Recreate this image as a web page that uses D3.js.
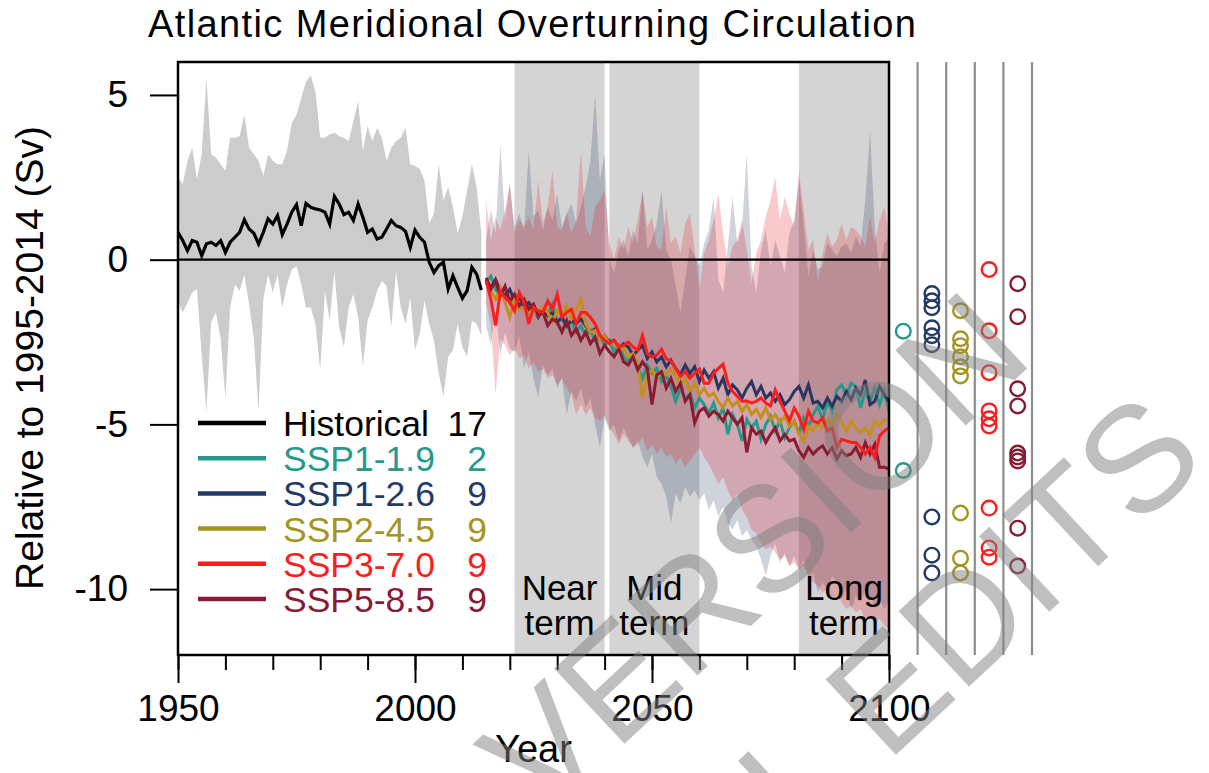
<!DOCTYPE html>
<html>
<head>
<meta charset="utf-8">
<script src="https://cdn.jsdelivr.net/npm/d3@7"></script>
<style>
  html, body { margin: 0; padding: 0; background: #fff; }
  svg { display: block; font-family: "Liberation Sans", Arial, Helvetica, sans-serif; }
</style>
</head>
<body>
<svg id="chart" width="1209" height="773"></svg>
<script>
// ---------------- data ----------------
const histStart = 1950;
// multi-model mean of the historical runs (Sv, relative to 1995-2014)
const histMean = [
  0.83,0.58,0.27,0.58,0.53,0.12,0.48,0.53,0.43,0.58,
  0.22,0.53,0.68,0.83,1.21,0.93,0.80,0.48,0.83,1.24,
  1.08,1.34,0.76,1.08,1.44,1.67,1.03,1.71,1.59,1.54,
  1.51,1.44,1.08,1.92,1.69,1.37,1.44,1.19,1.69,1.29,
  0.83,0.93,0.63,0.68,0.93,1.19,1.03,0.98,0.86,0.37,
  0.90,0.68,0.53,-0.08,-0.39,-0.18,-0.08,-0.89,-0.49,-0.84,
  -1.17,-0.94,-0.23,-0.44,-0.92
];
const histHigh = [
  2.5,2.3,3.0,3.4,2.45,3.2,5.5,3.2,3.1,2.9,
  2.7,3.7,3.7,3.75,4.4,3.4,3.2,3.0,2.55,3.2,
  3.0,2.9,2.9,3.3,4.15,4.4,4.9,5.4,5.6,5.1,
  3.7,3.7,3.8,3.85,3.75,3.7,3.6,4.2,4.8,3.3,
  4.05,3.6,4.0,3.7,3.0,3.4,3.6,3.7,4.0,2.9,
  2.85,2.75,2.4,1.1,1.4,2.9,1.8,2.2,1.6,0.8,
  1.3,2.1,2.9,2.2,0.8
];
const histLow = [
  -1.25,-1.6,-1.3,-1.0,-0.9,-2.9,-4.6,-1.9,-1.6,-2.4,
  -4.2,-1.45,-0.75,-0.95,-0.45,-1.35,-2.4,-4.6,-1.2,-0.45,
  -1.0,-0.45,-1.45,-0.75,-0.3,-0.2,-0.75,-1.45,-1.45,-1.95,
  -3.35,-0.95,-1.85,-0.35,-2.05,-2.65,-1.45,-1.05,-1.75,-3.25,
  -1.85,-1.45,-0.95,-0.65,-0.8,-2.05,-0.35,-1.45,-1.95,-1.15,
  -2.75,-2.25,-1.25,-1.95,-2.45,-3.45,-4.15,-2.95,-2.75,-1.95,
  -2.65,-2.95,-1.85,-1.95,-2.3
];

const scenStart = 2015;
const ssp119 = [
  -0.7,-0.5,-0.9,-1.1,-0.9,-1.3,-1.1,-1.45,-1.3,-1.6,
  -1.4,-1.75,-1.5,-1.65,-1.35,-1.9,-1.8,-2.05,-1.85,-2.2,
  -2.0,-2.3,-2.15,-2.45,-2.3,-2.6,-2.45,-2.8,-2.6,-2.95,
  -3.1,-2.85,-3.3,-3.6,-3.2,-3.45,-3.3,-3.7,-3.5,-3.85,
  -4.3,-3.9,-4.25,-4.05,-4.5,-4.2,-4.4,-4.65,-4.35,-4.8,
  -4.5,-5.3,-4.7,-5.0,-5.5,-4.85,-5.1,-4.9,-5.45,-5.0,
  -4.75,-5.2,-4.9,-5.4,-5.1,-4.9,-5.25,-4.8,-5.05,-4.7,
  -4.45,-4.85,-4.3,-4.6,-3.95,-3.8,-4.1,-3.75,-3.85,-4.5,
  -4.0,-4.3,-3.9,-4.4,-4.0,-4.6
];
const ssp126 = [
  -0.6,-0.85,-0.6,-0.95,-1.1,-0.9,-1.25,-1.15,-1.4,-1.3,
  -1.5,-1.75,-1.5,-1.7,-1.6,-1.9,-1.75,-2.0,-1.85,-1.95,
  -1.8,-2.0,-2.2,-2.1,-2.4,-2.3,-2.5,-2.45,-2.7,-2.55,
  -2.65,-2.9,-2.75,-2.6,-3.0,-2.8,-3.1,-2.95,-3.25,-3.05,
  -3.3,-3.5,-3.2,-3.45,-3.25,-3.7,-3.35,-3.6,-3.4,-3.9,
  -3.6,-4.1,-3.8,-3.95,-4.2,-3.9,-3.7,-4.1,-3.85,-4.2,
  -4.05,-4.3,-4.1,-4.4,-4.25,-4.0,-3.85,-4.2,-3.8,-4.35,
  -4.3,-4.5,-4.2,-4.45,-4.15,-4.3,-4.0,-4.25,-3.9,-4.1,
  -3.65,-4.4,-4.3,-3.85,-4.1,-4.3
];
const ssp245 = [
  -0.7,-0.95,-1.2,-0.85,-1.3,-1.75,-1.2,-1.5,-1.45,-1.6,
  -1.55,-1.7,-1.45,-1.6,-1.9,-1.55,-1.7,-1.4,-1.8,-1.5,
  -1.2,-1.95,-2.2,-2.15,-2.4,-2.3,-2.55,-2.5,-2.75,-2.7,
  -2.95,-2.85,-3.2,-4.2,-3.5,-3.35,-3.6,-3.4,-3.5,-3.3,
  -3.55,-3.8,-3.6,-4.0,-3.75,-4.1,-3.9,-4.15,-4.05,-4.3,
  -4.5,-4.2,-4.45,-4.3,-4.6,-4.4,-4.7,-4.55,-4.8,-4.5,
  -4.85,-4.7,-4.95,-4.75,-5.05,-4.9,-5.3,-5.5,-5.05,-5.2,
  -4.95,-5.1,-4.85,-5.0,-4.7,-4.95,-5.2,-4.9,-5.1,-5.25,
  -5.1,-5.35,-4.9,-5.05,-4.85,-4.9
];
const ssp370 = [
  -0.64,-1.2,-2.0,-0.95,-1.15,-1.3,-1.55,-1.0,-1.3,-1.95,
  -1.45,-1.55,-1.6,-1.25,-1.5,-1.05,-1.75,-1.6,-1.5,-1.95,
  -1.6,-1.6,-1.75,-1.95,-2.3,-2.45,-2.55,-2.45,-2.65,-2.6,
  -2.5,-2.65,-2.75,-2.3,-2.85,-2.95,-2.9,-2.72,-3.0,-3.07,
  -3.3,-3.55,-3.4,-3.6,-3.45,-3.32,-3.75,-3.75,-3.45,-3.3,
  -3.17,-3.75,-4.0,-4.15,-4.3,-4.29,-4.35,-4.3,-4.2,-4.35,
  -4.44,-3.95,-4.3,-4.6,-4.89,-4.5,-4.75,-5.15,-4.6,-4.9,
  -4.95,-4.8,-5.2,-5.1,-5.7,-5.45,-5.5,-5.55,-5.55,-5.7,
  -5.9,-5.7,-6.0,-5.35,-5.2,-5.1
];
const ssp585 = [
  -0.55,-0.9,-0.65,-1.1,-0.8,-1.25,-1.05,-1.4,-1.2,-1.5,
  -1.35,-1.7,-1.6,-2.0,-1.8,-1.9,-2.2,-1.85,-2.3,-2.1,
  -2.45,-2.2,-2.55,-2.35,-2.85,-2.6,-2.8,-2.95,-2.7,-3.1,
  -3.2,-2.95,-3.35,-3.1,-3.3,-4.4,-3.5,-3.4,-3.9,-3.6,
  -4.0,-3.75,-4.3,-4.1,-4.95,-4.6,-4.5,-4.75,-4.6,-4.7,
  -4.9,-4.6,-4.8,-5.0,-4.8,-5.85,-5.1,-5.3,-5.2,-5.55,
  -5.3,-5.1,-5.5,-5.3,-5.5,-5.45,-5.8,-6.0,-5.7,-5.9,
  -5.75,-5.65,-5.9,-5.7,-6.05,-5.8,-5.95,-5.9,-5.7,-6.0,
  -5.55,-5.9,-5.6,-6.3,-6.3,-6.35
];

// 5-95% model ranges for SSP1-2.6 and SSP3-7.0
const ssp126High = [
  0.6,1.5,0.8,3.5,1.2,2.3,1.0,1.4,0.9,3.3,
  1.3,1.5,0.9,1.6,1.2,2.0,1.0,1.4,1.7,1.1,
  1.6,2.2,3.0,5.0,2.4,3.2,0.0,-0.4,0.3,0.6,
  0.1,0.9,0.5,2.1,0.3,0.6,1.1,2.1,0.3,0.0,
  -0.8,-1.6,-0.6,0.4,0.1,-0.2,0.5,0.9,1.9,-0.6,
  -1.0,0.4,1.9,0.5,1.0,3.2,-0.2,-1.0,0.3,0.9,
  -0.2,0.6,0.1,-0.4,0.8,1.2,2.4,1.0,-0.5,0.3,
  -0.3,-0.2,0.5,0.3,0.1,0.4,0.5,0.2,0.7,0.4,
  1.8,3.9,1.0,-0.4,0.5,0.7
];
const ssp126Low = [
  -2.0,-2.6,-1.4,-2.9,-2.2,-2.7,-2.8,-2.3,-3.3,-2.8,
  -3.6,-4.2,-3.2,-3.5,-3.3,-3.9,-3.6,-4.7,-4.0,-4.3,
  -3.9,-4.5,-4.2,-5.0,-5.7,-4.8,-5.2,-5.0,-5.5,-5.1,
  -5.4,-5.7,-5.5,-6.0,-6.3,-5.9,-6.6,-6.8,-7.2,-8.0,
  -7.1,-7.4,-6.9,-7.2,-7.0,-7.3,-7.1,-7.6,-7.3,-7.8,
  -7.5,-8.0,-8.2,-7.9,-8.4,-8.2,-8.5,-8.7,-9.1,-9.6,
  -9.0,-8.6,-9.2,-8.9,-9.3,-9.0,-9.4,-9.1,-9.7,-9.5,
  -10.1,-9.8,-10.0,-9.6,-9.8,-10.3,-10.0,-10.6,-10.2,-10.4,
  -10.0,-10.2,-10.5,-10.3,-10.6,-10.4
];
const ssp370High = [
  1.8,0.6,1.3,0.9,1.5,2.3,0.8,1.2,1.0,1.3,
  0.9,2.4,1.1,1.6,2.7,1.0,0.9,1.4,0.8,1.2,
  3.3,1.0,0.7,1.6,1.8,2.1,0.5,0.0,0.7,0.3,
  1.0,0.5,1.2,2.1,1.0,1.3,0.4,0.3,1.6,0.5,
  0.7,0.2,1.1,1.4,0.3,-0.9,0.2,0.6,1.2,2.0,
  0.8,-0.2,0.4,0.6,1.2,0.3,-0.7,0.2,0.6,1.3,
  1.8,2.5,1.2,1.9,1.4,1.0,2.7,1.5,0.3,0.6,
  -0.7,0.2,0.8,0.4,0.6,1.1,0.6,1.0,0.9,0.7,
  0.4,1.3,0.5,1.2,1.6,0.8
];
const ssp370Low = [
  -1.3,-2.0,-4.1,-2.4,-2.6,-2.9,-2.7,-3.0,-2.9,-3.3,
  -3.1,-3.4,-3.3,-3.6,-3.5,-3.8,-3.6,-3.9,-4.1,-4.7,
  -4.4,-4.7,-4.5,-4.8,-4.9,-4.7,-5.1,-5.3,-5.6,-5.3,
  -5.5,-5.7,-5.6,-5.4,-5.8,-5.6,-5.9,-5.7,-6.0,-5.9,
  -6.2,-6.0,-6.3,-6.1,-5.9,-5.7,-6.0,-6.2,-6.5,-6.8,
  -6.6,-7.0,-7.3,-7.1,-7.6,-7.8,-8.2,-8.3,-8.6,-8.8,
  -8.7,-8.9,-9.1,-9.0,-9.3,-9.2,-9.4,-9.3,-9.6,-9.8,
  -9.9,-10.1,-10.0,-10.3,-10.2,-10.4,-10.6,-10.5,-10.7,-10.6,
  -10.9,-10.8,-11.0,-10.9,-11.1,-11.2
];

// 2081-2100 mean of each individual model, per scenario
const models119 = [-2.17,-6.40];
const models126 = [-1.03,-1.25,-1.46,-2.07,-2.31,-2.58,-7.81,-8.97,-9.51];
const models245 = [-1.55,-2.40,-2.61,-2.95,-3.25,-3.53,-7.69,-9.06,-9.51];
const models370 = [-0.30,-2.16,-3.43,-4.59,-4.83,-5.05,-7.54,-8.75,-9.03];
const models585 = [-0.73,-1.73,-3.92,-4.44,-5.87,-5.99,-6.11,-8.15,-9.30];

const scenarioNames = ["SSP1-1.9","SSP1-2.6","SSP2-4.5","SSP3-7.0","SSP5-8.5"];
const legendNames = ["Historical","SSP1-1.9","SSP1-2.6","SSP2-4.5","SSP3-7.0","SSP5-8.5"];
const legendCounts = [17, 2, 9, 9, 9, 9];

const periodNames = ["Near","Mid","Long"];
const periodStart = [2021, 2041, 2081];
const periodEnd = [2040, 2060, 2100];

const xMajorTicks = [1950, 2000, 2050, 2100];
const xMinorTicks = [1950,1960,1970,1980,1990,2000,2010,2020,2030,2040,2050,2060,2070,2080,2090,2100];
const yTicks = [5, 0, -5, -10];

// ---------------- styling ----------------
const textColors = ["#000000","#26998a","#243a66","#a3951f","#ff1c1c","#881b33"];
const lineColors = ["#000000","#26998a","#2a3560","#c48f1c","#ff1c1c","#8c1a30"];
const scenSeries = [ssp119, ssp126, ssp245, ssp370, ssp585];
const scenModels = [models119, models126, models245, models370, models585];

const svg = d3.select("#chart");
const W = 1209, H = 773;
const plot = {left: 178, right: 889, top: 62, bottom: 655};

const x = d3.scaleLinear().domain([1950, 2100]).range([plot.left, plot.right]);
const y = d3.scaleLinear().domain([-12, 6]).range([plot.bottom, plot.top]);
const col = d3.scaleBand().domain(scenarioNames).range([plot.right, 1032]);

svg.append("rect").attr("width", W).attr("height", H).attr("fill", "#fff");

svg.append("defs").append("clipPath").attr("id", "plotClip")
  .append("rect")
  .attr("x", plot.left).attr("y", plot.top)
  .attr("width", plot.right - plot.left).attr("height", plot.bottom - plot.top);

const inner = svg.append("g").attr("clip-path", "url(#plotClip)");

// assessment periods
periodNames.forEach((p, i) => {
  inner.append("rect")
    .attr("x", x(periodStart[i]))
    .attr("y", plot.top)
    .attr("width", x(periodEnd[i]) - x(periodStart[i]))
    .attr("height", plot.bottom - plot.top)
    .attr("fill", "#d4d4d4");
});

const areaFrom = (start, lo, hi) => d3.area()
  .x((d, i) => x(start + i))
  .y0((d, i) => y(lo[i]))
  .y1((d, i) => y(hi[i]));

// historical range
inner.append("path")
  .datum(histMean)
  .attr("d", areaFrom(histStart, histLow, histHigh))
  .attr("fill", "#cccccc");

// scenario ranges
inner.append("path")
  .datum(ssp126)
  .attr("d", areaFrom(scenStart, ssp126Low, ssp126High))
  .attr("fill", "#22375f").attr("fill-opacity", 0.22);
inner.append("path")
  .datum(ssp370)
  .attr("d", areaFrom(scenStart, ssp370Low, ssp370High))
  .attr("fill", "#e81e2a").attr("fill-opacity", 0.24);

// zero line
svg.append("line")
  .attr("x1", plot.left).attr("x2", plot.right)
  .attr("y1", y(0)).attr("y2", y(0))
  .attr("stroke", "#000").attr("stroke-width", 2.2);

const lineFrom = start => d3.line().x((d, i) => x(start + i)).y(d => y(d));

inner.append("path")
  .datum(histMean)
  .attr("d", lineFrom(histStart))
  .attr("fill", "none").attr("stroke", "#000")
  .attr("stroke-width", 3.2).attr("stroke-linejoin", "miter");

[0, 1, 2, 4, 3].forEach(k => {
  inner.append("path")
    .datum(scenSeries[k])
    .attr("d", lineFrom(scenStart))
    .attr("fill", "none").attr("stroke", lineColors[k + 1])
    .attr("stroke-width", 3).attr("stroke-linejoin", "miter");
});

// period labels
periodNames.forEach((p, i) => {
  const cx = (x(periodStart[i]) + x(periodEnd[i])) / 2;
  const t = svg.append("text")
    .attr("text-anchor", "middle")
    .attr("font-size", 35).attr("fill", "#000");
  t.append("tspan").attr("x", cx).attr("y", 600).text(p);
  t.append("tspan").attr("x", cx).attr("y", 635).text("term");
});

// frame
svg.append("rect")
  .attr("x", plot.left).attr("y", plot.top)
  .attr("width", plot.right - plot.left).attr("height", plot.bottom - plot.top)
  .attr("fill", "none").attr("stroke", "#000").attr("stroke-width", 2.5);

// axes
const gxMinor = svg.append("g")
  .attr("transform", `translate(0,${plot.bottom})`)
  .call(d3.axisBottom(x).tickValues(xMinorTicks).tickSize(15).tickFormat(""));
const gxMajor = svg.append("g")
  .attr("transform", `translate(0,${plot.bottom})`)
  .call(d3.axisBottom(x).tickValues(xMajorTicks).tickSize(28).tickPadding(12)
        .tickFormat(d => String(d)));
const gy = svg.append("g")
  .attr("transform", `translate(${plot.left},0)`)
  .call(d3.axisLeft(y).tickValues(yTicks).tickSize(28).tickPadding(22)
        .tickFormat(d => String(d)));

[gxMinor, gxMajor, gy].forEach(g => {
  g.select(".domain").remove();
  g.selectAll(".tick line").attr("stroke", "#000").attr("stroke-width", 2);
  g.selectAll(".tick text")
    .attr("font-family", '"Liberation Sans", Arial, Helvetica, sans-serif')
    .attr("font-size", 37).attr("fill", "#000");
});

// axis titles
svg.append("text")
  .attr("x", 148).attr("y", 37)
  .attr("font-size", 38).attr("textLength", 768).attr("lengthAdjust", "spacing")
  .text("Atlantic Meridional Overturning Circulation");

svg.append("text")
  .attr("transform", "translate(43,358) rotate(-90)")
  .attr("text-anchor", "middle")
  .attr("font-size", 39)
  .text("Relative to 1995-2014 (Sv)");

svg.append("text")
  .attr("x", (plot.left + plot.right) / 2).attr("y", 762)
  .attr("text-anchor", "middle").attr("font-size", 38)
  .text("Year");

// per-model end-of-century columns
scenarioNames.forEach((s, k) => {
  svg.append("line")
    .attr("x1", col(s) + col.bandwidth()).attr("x2", col(s) + col.bandwidth())
    .attr("y1", plot.top).attr("y2", plot.bottom)
    .attr("stroke", "#8e8e8e").attr("stroke-width", 2.2);
  svg.append("g").selectAll("circle")
    .data(scenModels[k]).join("circle")
    .attr("cx", col(s) + col.bandwidth() / 2)
    .attr("cy", d => y(d))
    .attr("r", 7.3)
    .attr("fill", "none")
    .attr("stroke", textColors[k + 1])
    .attr("stroke-width", 2.4);
});

// legend
const legend = svg.append("g");
legendNames.forEach((name, i) => {
  const ly = 423 + i * 35.2;
  legend.append("line")
    .attr("x1", 198).attr("x2", 266).attr("y1", ly).attr("y2", ly)
    .attr("stroke", textColors[i]).attr("stroke-width", 4.5);
  legend.append("text")
    .attr("x", 283).attr("y", ly + 13)
    .attr("font-size", 35.5).attr("fill", textColors[i])
    .text(name);
  legend.append("text")
    .attr("x", 487).attr("y", ly + 13)
    .attr("text-anchor", "end")
    .attr("font-size", 35.5).attr("fill", textColors[i])
    .text(legendCounts[i]);
});

// draft watermark
const wm = svg.append("g").attr("fill", "#808080").attr("fill-opacity", 0.5)
  .attr("font-size", 150);
wm.append("text")
  .attr("transform", "translate(1036,360) rotate(-43)")
  .attr("text-anchor", "end")
  .text("ACCEPTED VERSION");
wm.append("text")
  .attr("transform", "translate(1210,462) rotate(-43)")
  .attr("text-anchor", "end")
  .text("SUBJECT TO FINAL EDITS");
</script>
</body>
</html>
